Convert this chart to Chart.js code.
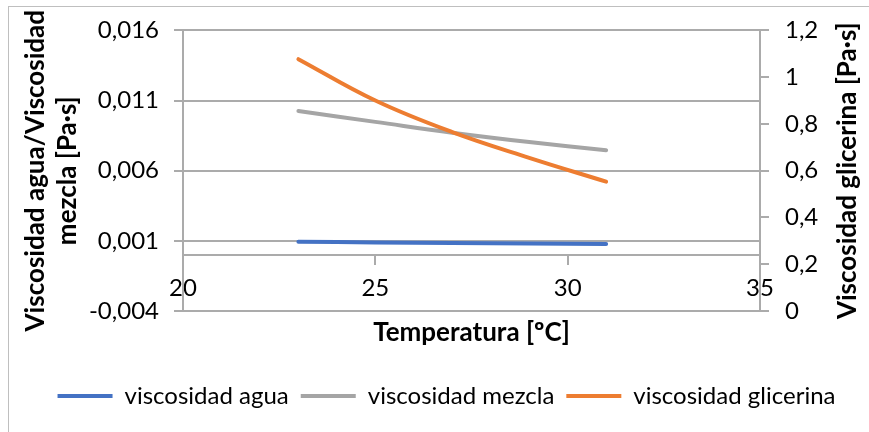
<!DOCTYPE html>
<html>
<head>
<meta charset="utf-8">
<script src="https://cdn.jsdelivr.net/npm/chart.js@4.4.0/dist/chart.umd.min.js"></script>
<style>
  html, body { margin: 0; padding: 0; background: #ffffff; }
  #wrap { width: 869px; height: 432px; }
</style>
</head>
<body>
<div id="wrap"><canvas id="chart" width="869" height="432"></canvas></div>
<script>
// Temperatura [ºC]
const temperatures = [23, 25, 27, 29, 31];
// Viscosidades [Pa·s]
const viscAgua = [0.00093, 0.00089, 0.00085, 0.00082, 0.00078];
const viscMezcla = [0.01025, 0.00948, 0.00871, 0.00804, 0.00745];
const viscGlicerina = [1.077, 0.900, 0.765, 0.655, 0.553];

// Axis tick values
const leftTicks = [-0.004, 0.001, 0.006, 0.011, 0.016];
const rightTicks = [0, 0.2, 0.4, 0.6, 0.8, 1.0, 1.2];
const xTicks = [20, 25, 30, 35];

const rightTitle = 'Viscosidad glicerina [Pa·s]';

const FONT = 'Lato';
const AXIS_GREY = '#ABABAB';
// The chart frame runs past the right edge of the canvas, so the layout does too
const OVERHANG = 24;
const toPoints = arr => temperatures.map((t, i) => ({ x: t, y: arr[i] }));
const comma = s => s.replace('.', ',');

// White background and the outer frame of the chart
const framePlugin = {
  id: 'frame',
  beforeDraw(chart) {
    const ctx = chart.ctx;
    ctx.save();
    ctx.fillStyle = '#ffffff';
    ctx.fillRect(0, 0, chart.width, chart.height);
    ctx.strokeStyle = '#BFBFBF';
    ctx.lineWidth = 1;
    ctx.strokeRect(8.5, 6.5, chart.width + 20, chart.height + 20);
    ctx.restore();
  }
};

// Secondary axis title, read bottom-to-top like the primary one
const rightTitlePlugin = {
  id: 'rightTitle',
  afterDraw(chart) {
    const s = chart.scales.y1;
    const ctx = chart.ctx;
    ctx.save();
    ctx.translate(s.left + 88, (s.top + s.bottom) / 2);
    ctx.rotate(-Math.PI / 2);
    ctx.font = 'bold 26px ' + FONT;
    ctx.fillStyle = '#000000';
    ctx.textAlign = 'center';
    ctx.textBaseline = 'middle';
    ctx.fillText(rightTitle, 0, 0);
    ctx.restore();
  }
};

const lineStyle = {
  borderWidth: 4,
  pointRadius: 0,
  pointHoverRadius: 0,
  tension: 0.4,
  borderCapStyle: 'round',
  borderJoinStyle: 'round',
  fill: false
};

new Chart(document.getElementById('chart'), {
  type: 'line',
  data: {
    datasets: [
      Object.assign({ label: 'viscosidad agua', data: toPoints(viscAgua), borderColor: '#4472C4', backgroundColor: '#4472C4', yAxisID: 'y', order: 2 }, lineStyle),
      Object.assign({ label: 'viscosidad mezcla', data: toPoints(viscMezcla), borderColor: '#A5A5A5', backgroundColor: '#A5A5A5', yAxisID: 'y', order: 1 }, lineStyle),
      Object.assign({ label: 'viscosidad glicerina', data: toPoints(viscGlicerina), borderColor: '#ED7D31', backgroundColor: '#ED7D31', yAxisID: 'y1', order: 0 }, lineStyle)
    ]
  },
  options: {
    responsive: false,
    animation: false,
    devicePixelRatio: 1,
    layout: { padding: { top: 28, bottom: 14, left: 0, right: -OVERHANG } },
    plugins: {
      tooltip: { enabled: false },
      legend: {
        position: 'bottom',
        labels: {
          usePointStyle: true,
          pointStyle: 'line',
          pointStyleWidth: 55,
          padding: 12,
          color: '#000000',
          font: { family: FONT, size: 24 },
          sort: (a, b) => a.datasetIndex - b.datasetIndex
        }
      }
    },
    scales: {
      x: {
        type: 'linear',
        position: { y: 0 },
        min: 20,
        max: 35,
        afterBuildTicks: s => { s.ticks = xTicks.map(v => ({ value: v })); },
        grid: { drawOnChartArea: false, drawTicks: true, tickLength: 9, color: AXIS_GREY, lineWidth: 2 },
        border: { display: true, color: AXIS_GREY, width: 2 },
        ticks: { padding: 10, color: '#000000', font: { family: FONT, size: 24 }, maxRotation: 0, autoSkip: false, callback: v => String(v) }
      },
      xTitle: {
        type: 'linear',
        axis: 'x',
        position: 'bottom',
        grid: { display: false },
        border: { display: false },
        ticks: { display: false },
        afterFit: s => { s.height = 61; },
        title: {
          display: true,
          text: 'Temperatura [ºC]',
          color: '#000000',
          font: { family: FONT, size: 26, weight: 'bold' },
          padding: { top: 0, bottom: 24 }
        }
      },
      y: {
        position: 'left',
        min: -0.004,
        max: 0.016,
        afterBuildTicks: s => { s.ticks = leftTicks.map(v => ({ value: v })); },
        afterFit: s => { s.width = 183; },
        grid: { color: AXIS_GREY, lineWidth: 2, drawTicks: true, tickLength: 9 },
        border: { display: true, color: AXIS_GREY, width: 2 },
        ticks: { padding: 15, color: '#000000', font: { family: FONT, size: 24 }, callback: v => comma(Number(v).toFixed(3)) },
        title: {
          display: true,
          text: ['Viscosidad agua/Viscosidad', 'mezcla [Pa·s]'],
          color: '#000000',
          font: { family: FONT, size: 26, weight: 'bold', lineHeight: 1.23 },
          padding: { top: 20, bottom: 0 }
        }
      },
      y1: {
        position: 'right',
        min: 0,
        max: 1.2,
        afterBuildTicks: s => { s.ticks = rightTicks.map(v => ({ value: v })); },
        afterFit: s => { s.width = 109 + OVERHANG; },
        grid: { drawOnChartArea: false, color: AXIS_GREY, lineWidth: 2, drawTicks: true, tickLength: 9 },
        border: { display: true, color: AXIS_GREY, width: 2 },
        ticks: { padding: 16, color: '#000000', font: { family: FONT, size: 24 }, callback: v => comma(String(Number(Number(v).toFixed(1)))) },
        title: { display: false }
      }
    }
  },
  plugins: [framePlugin, rightTitlePlugin]
});
</script>
</body>
</html>
